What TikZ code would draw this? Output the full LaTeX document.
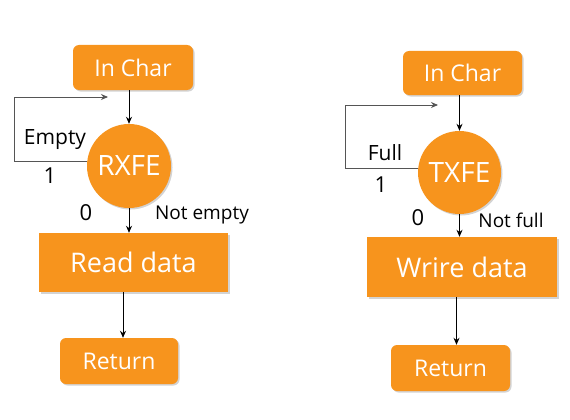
\documentclass[tikz,border=0pt]{standalone}
\usepackage{fontspec}
\setmainfont{Open Sans}
\usetikzlibrary{arrows.meta,shadows}
\definecolor{orng}{HTML}{F7941D}
\definecolor{loopgray}{HTML}{555555}
\tikzset{
  box/.style={fill=orng, text=white, inner sep=0pt, font=\fontsize{27}{30}\selectfont,
    drop shadow={opacity=0.35, shadow xshift=1.5pt, shadow yshift=-1.5pt}},
  rbox/.style={box, rounded corners=6pt, font=\fontsize{23}{26}\selectfont},
  dec/.style={box, circle, font=\fontsize{28}{30}\selectfont},
  arr/.style={-{Stealth[length=7pt,width=6pt]}, line width=0.8pt, black},
  looparr/.style={-{Stealth[length=7pt,width=6pt]}, line width=0.9pt, loopgray},
  lbl/.style={inner sep=0pt, font=\fontsize{19}{22}\selectfont},
  biglbl/.style={inner sep=0pt, font=\fontsize{21}{24}\selectfont},
  num/.style={inner sep=0pt, font=\fontsize{22}{24}\selectfont},
}
\begin{document}
\begin{tikzpicture}[x=1pt,y=-1pt]
\useasboundingbox (0,0) rectangle (570,420);
% left
\node[rbox, minimum width=120pt, minimum height=45pt] (inL) at (133,67.5) {In Char};
\node[dec, minimum size=84pt] (rx) at (129,166) {RXFE};
\node[box, minimum width=189pt, minimum height=59pt] (rdL) at (133.5,262.5) {Read data};
\node[rbox, minimum width=118pt, minimum height=46pt] (retL) at (119,361) {Return};
\coordinate (loopL) at (14,97);
\coordinate (tipL) at (108,97);
\draw[arr] (rx.north |- inL.south) -- (rx.north);
\draw[arr] (rx.south) -- (rx.south |- rdL.north);
\draw[arr] ([xshift=4pt]retL.north |- rdL.south) -- ([xshift=4pt]retL.north);
\draw[looparr] (rx.174) -| (loopL) -- (tipL);
\node[biglbl] (emptyL) at (55,140) {Empty};
\node[num] (oneL) at (50,176) {1};
\node[num] (zeroL) at (86,213) {0};
\node[lbl] (notemptyL) at (202,215) {Not empty};
% right
\node[rbox, minimum width=119pt, minimum height=44pt] (inR) at (462.5,73) {In Char};
\node[dec, minimum size=83pt] (tx) at (459.5,172.5) {TXFE};
\node[box, minimum width=190pt, minimum height=60pt] (wrR) at (462,267) {Wrire data};
\node[rbox, minimum width=119pt, minimum height=46pt] (retR) at (450.5,368) {Return};
\coordinate (loopR) at (345,105);
\coordinate (tipR) at (438,105);
\draw[arr] (tx.north |- inR.south) -- (tx.north);
\draw[arr] (tx.south) -- (tx.south |- wrR.north);
\draw[arr] ([xshift=6pt]retR.north |- wrR.south) -- ([xshift=6pt]retR.north);
\draw[looparr] (tx.175) -| (loopR) -- (tipR);
\node[biglbl] (fullR) at (385,153) {Full};
\node[num] (oneR) at (381,185) {1};
\node[num] (zeroR) at (418,218) {0};
\node[lbl] (notfullR) at (511,220) {Not full};
\end{tikzpicture}
\end{document}
